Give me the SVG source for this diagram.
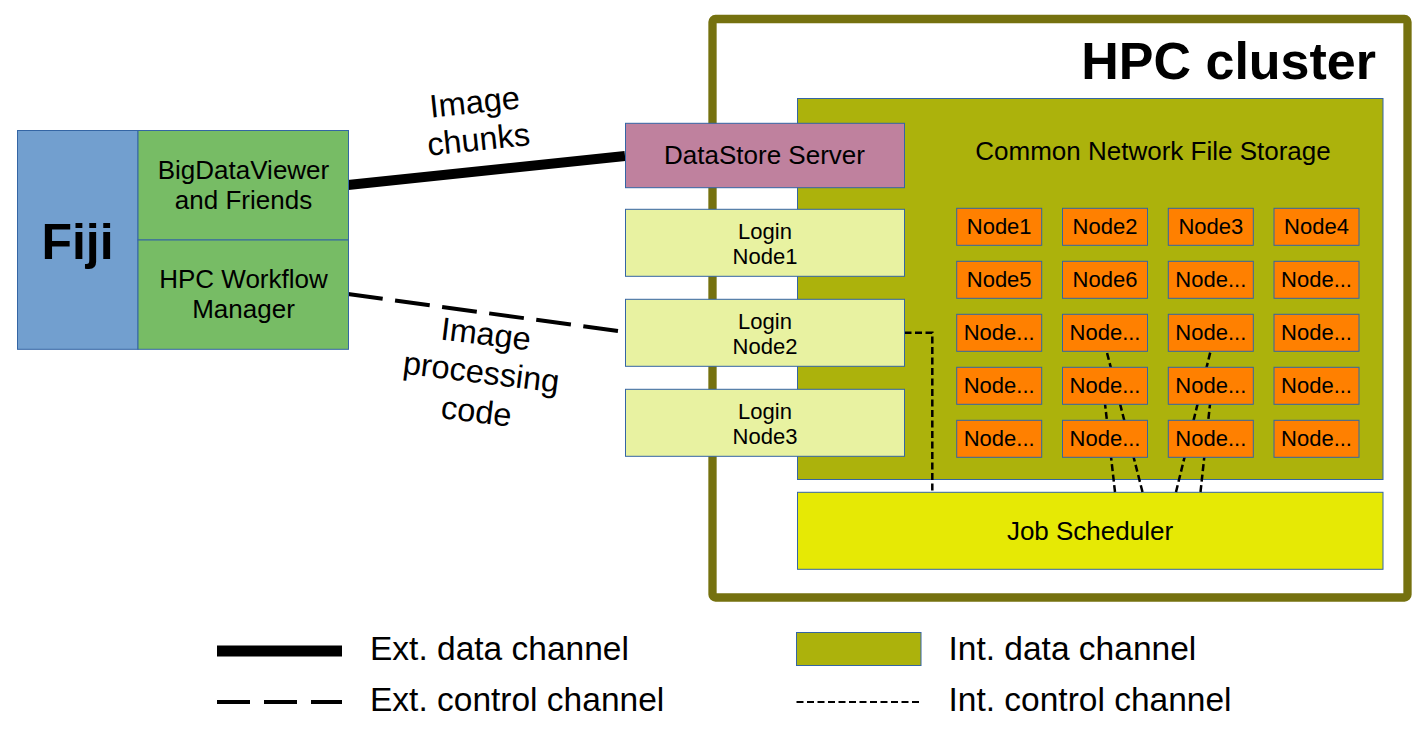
<svg xmlns="http://www.w3.org/2000/svg" width="1427" height="738" viewBox="0 0 1427 738">
<style>
text{font-family:"Liberation Sans",Arial,sans-serif;fill:#000}
.box{stroke:#3465a4;stroke-width:1}
.node{fill:#ff8000;stroke:#3465a4;stroke-width:1}
.nt{font-size:22px;text-anchor:middle}
.mt{font-size:26px;text-anchor:middle}
.big{font-size:32.5px;text-anchor:middle}
.leg{font-size:33.5px}
.ctl{fill:none;stroke:#000;stroke-width:2.5;stroke-dasharray:7 3.5}
</style>
<rect x="0" y="0" width="1427" height="738" fill="#fff"/>
<g id="hpc-cluster">
<rect x="712.5" y="19" width="695" height="578.5" rx="3" fill="#fff" stroke="#75710f" stroke-width="8.3"/>
<text x="1376" y="78.5" style="font-size:52px;font-weight:bold;text-anchor:end">HPC cluster</text>
</g>
<g id="cnfs">
<rect class="box" x="797.5" y="98.5" width="585.5" height="381" fill="#acb20c"/>
<text class="mt" x="1153" y="159.5">Common Network File Storage</text>
</g>
<g id="job-scheduler">
<rect class="box" x="797.5" y="492.3" width="585.5" height="77" fill="#e6e905"/>
<text class="mt" x="1090" y="539.5">Job Scheduler</text>
</g>
<g id="connectors">
<line x1="348" y1="185" x2="625" y2="156" stroke="#000" stroke-width="10"/>
<line x1="348" y1="294" x2="625" y2="332" stroke="#000" stroke-width="4" stroke-dasharray="35 12.5"/>
<polyline class="ctl" points="904.5,332.7 932.3,332.7 932.3,492"/>
<line class="ctl" x1="1115" y1="492" x2="1103" y2="386"/>
<line class="ctl" x1="1142.5" y1="492" x2="1102" y2="333"/>
<line class="ctl" x1="1176" y1="492" x2="1215" y2="333"/>
<line class="ctl" x1="1200.5" y1="492" x2="1212" y2="386"/>
</g>
<g id="label-image-chunks" transform="translate(476.7,122.5) rotate(-6)">
<text class="big" x="0" y="-9.5">Image</text>
<text class="big" x="0" y="28">chunks</text>
</g>
<g id="label-image-processing-code" transform="translate(480.7,376.7) rotate(7)">
<text class="big" x="0" y="-32">Image</text>
<text class="big" x="0" y="6.5">processing</text>
<text class="big" x="0" y="46">code</text>
</g>
<g id="compute-nodes">
<g id="node1"><rect class="node" x="956.7" y="208.3" width="85" height="37"/><text class="nt" x="999.2" y="234.3">Node1</text></g>
<g id="node2"><rect class="node" x="1062.5" y="208.3" width="85" height="37"/><text class="nt" x="1105" y="234.3">Node2</text></g>
<g id="node3"><rect class="node" x="1168.3" y="208.3" width="85" height="37"/><text class="nt" x="1210.8" y="234.3">Node3</text></g>
<g id="node4"><rect class="node" x="1274" y="208.3" width="85" height="37"/><text class="nt" x="1316.5" y="234.3">Node4</text></g>
<g id="node5"><rect class="node" x="956.7" y="261.3" width="85" height="37"/><text class="nt" x="999.2" y="287.3">Node5</text></g>
<g id="node6"><rect class="node" x="1062.5" y="261.3" width="85" height="37"/><text class="nt" x="1105" y="287.3">Node6</text></g>
<g id="node-r2c3"><rect class="node" x="1168.3" y="261.3" width="85" height="37"/><text class="nt" x="1210.8" y="287.3">Node...</text></g>
<g id="node-r2c4"><rect class="node" x="1274" y="261.3" width="85" height="37"/><text class="nt" x="1316.5" y="287.3">Node...</text></g>
<g id="node-r3c1"><rect class="node" x="956.7" y="314.3" width="85" height="37"/><text class="nt" x="999.2" y="340.3">Node...</text></g>
<g id="node-r3c2"><rect class="node" x="1062.5" y="314.3" width="85" height="37"/><text class="nt" x="1105" y="340.3">Node...</text></g>
<g id="node-r3c3"><rect class="node" x="1168.3" y="314.3" width="85" height="37"/><text class="nt" x="1210.8" y="340.3">Node...</text></g>
<g id="node-r3c4"><rect class="node" x="1274" y="314.3" width="85" height="37"/><text class="nt" x="1316.5" y="340.3">Node...</text></g>
<g id="node-r4c1"><rect class="node" x="956.7" y="367.3" width="85" height="37"/><text class="nt" x="999.2" y="393.3">Node...</text></g>
<g id="node-r4c2"><rect class="node" x="1062.5" y="367.3" width="85" height="37"/><text class="nt" x="1105" y="393.3">Node...</text></g>
<g id="node-r4c3"><rect class="node" x="1168.3" y="367.3" width="85" height="37"/><text class="nt" x="1210.8" y="393.3">Node...</text></g>
<g id="node-r4c4"><rect class="node" x="1274" y="367.3" width="85" height="37"/><text class="nt" x="1316.5" y="393.3">Node...</text></g>
<g id="node-r5c1"><rect class="node" x="956.7" y="420.3" width="85" height="37"/><text class="nt" x="999.2" y="446.3">Node...</text></g>
<g id="node-r5c2"><rect class="node" x="1062.5" y="420.3" width="85" height="37"/><text class="nt" x="1105" y="446.3">Node...</text></g>
<g id="node-r5c3"><rect class="node" x="1168.3" y="420.3" width="85" height="37"/><text class="nt" x="1210.8" y="446.3">Node...</text></g>
<g id="node-r5c4"><rect class="node" x="1274" y="420.3" width="85" height="37"/><text class="nt" x="1316.5" y="446.3">Node...</text></g>
</g>
<g id="login-node1">
<rect class="box" x="625.5" y="209.3" width="279" height="67" fill="#e8f2a1"/>
<text class="nt" x="765" y="238.5">Login</text><text class="nt" x="765" y="263.5">Node1</text>
</g>
<g id="login-node2">
<rect class="box" x="625.5" y="299.3" width="279" height="67" fill="#e8f2a1"/>
<text class="nt" x="765" y="328.5">Login</text><text class="nt" x="765" y="353.5">Node2</text>
</g>
<g id="login-node3">
<rect class="box" x="625.5" y="389.3" width="279" height="67" fill="#e8f2a1"/>
<text class="nt" x="765" y="418.5">Login</text><text class="nt" x="765" y="443.5">Node3</text>
</g>
<g id="datastore-server">
<rect class="box" x="625.5" y="123.3" width="279" height="64.4" fill="#bf819e"/>
<text class="mt" x="764.5" y="164">DataStore Server</text>
</g>
<g id="fiji">
<rect class="box" x="17.5" y="130.5" width="120.5" height="218.8" fill="#729fcf"/>
<text x="77.5" y="258.5" style="font-size:50px;font-weight:bold;text-anchor:middle">Fiji</text>
</g>
<g id="bigdataviewer">
<rect class="box" x="138" y="130.5" width="210.5" height="109.5" fill="#77bc65"/>
<text class="mt" x="243.5" y="178.5">BigDataViewer</text><text class="mt" x="243.5" y="208.5">and Friends</text>
</g>
<g id="hpc-workflow-manager">
<rect class="box" x="138" y="240" width="210.5" height="109.3" fill="#77bc65"/>
<text class="mt" x="243.5" y="287.5">HPC Workflow</text><text class="mt" x="243.5" y="317.5">Manager</text>
</g>
<g id="legend">
<line x1="217" y1="651" x2="342" y2="651" stroke="#000" stroke-width="11"/>
<text class="leg" x="370" y="660">Ext. data channel</text>
<line x1="217" y1="702" x2="342" y2="702" stroke="#000" stroke-width="4" stroke-dasharray="33 14"/>
<text class="leg" x="370" y="711">Ext. control channel</text>
<rect class="box" x="796.5" y="632.5" width="124.5" height="33" fill="#acb20c"/>
<text class="leg" x="948.5" y="660">Int. data channel</text>
<line x1="796.5" y1="702" x2="921" y2="702" stroke="#000" stroke-width="2" stroke-dasharray="7 3.5"/>
<text class="leg" x="948.5" y="711">Int. control channel</text>
</g>
</svg>
